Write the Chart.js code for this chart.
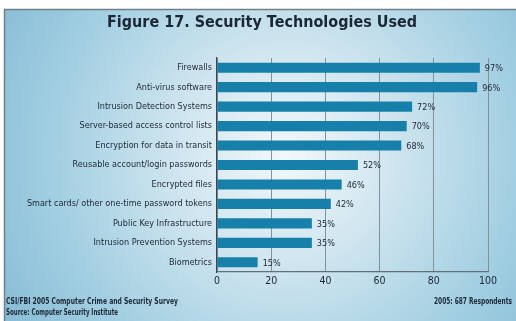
<!DOCTYPE html>
<html>
<head>
<meta charset="utf-8">
<script src="https://cdn.jsdelivr.net/npm/chart.js@4/dist/chart.umd.min.js"></script>
<style>
  html, body { margin: 0; padding: 0; background: #ffffff; }
  #wrap { width: 516px; height: 321px; position: relative; }
</style>
</head>
<body>
<div id="wrap"><canvas id="c" width="516" height="321"></canvas></div>
<script>
// Survey results: share of respondents using each security technology
const categories = [
  "Firewalls",
  "Anti-virus software",
  "Intrusion Detection Systems",
  "Server-based access control lists",
  "Encryption for data in transit",
  "Reusable account/login passwords",
  "Encrypted files",
  "Smart cards/ other one-time password tokens",
  "Public Key Infrastructure",
  "Intrusion Prevention Systems",
  "Biometrics"
];
const usagePercent = [97, 96, 72, 70, 68, 52, 46, 42, 35, 35, 15];
const xTicks = [0, 20, 40, 60, 80, 100];

const titleText = "Figure 17. Security Technologies Used";
const footLeft = ["CSI/FBI 2005 Computer Crime and Security Survey", "Source: Computer Security Institute"];
const footRight = "2005: 687 Respondents";

const NARROW = '"Liberation Sans Narrow", "DejaVu Sans Condensed", Arial, sans-serif';
const INK = '#1b2734';

// Panel background, frame, title and footnotes
const panelPlugin = {
  id: 'panel',
  beforeDraw(chart) {
    const ctx = chart.ctx;
    const W = chart.width, H = chart.height;
    ctx.save();
    ctx.fillStyle = '#ffffff';
    ctx.fillRect(0, 0, W, H);
    const g = ctx.createRadialGradient(285, 155, 0, 285, 155, 330);
    g.addColorStop(0, '#f2f8fb');
    g.addColorStop(0.3, '#d3e7f0');
    g.addColorStop(0.7, '#a3cfe2');
    g.addColorStop(1, '#86bcd5');
    ctx.fillStyle = g;
    ctx.fillRect(4, 9, W - 4, H - 9);
    // frame on top and left edges
    ctx.strokeStyle = '#6f8089';
    ctx.lineWidth = 1.5;
    ctx.beginPath();
    ctx.moveTo(4.5, H);
    ctx.lineTo(4.5, 9.5);
    ctx.lineTo(W, 9.5);
    ctx.stroke();
    ctx.restore();
  },
  afterDraw(chart) {
    const ctx = chart.ctx;
    ctx.save();
    ctx.fillStyle = INK;
    ctx.textBaseline = 'middle';
    ctx.textAlign = 'center';
    ctx.font = 'bold 16px "DejaVu Sans", Arial, sans-serif';
    ctx.fillText(titleText, 262, 23, 310);

    ctx.textAlign = 'left';
    ctx.font = 'bold 8px ' + NARROW;
    ctx.fillText(footLeft[0], 6, 302, 172);
    ctx.fillText(footLeft[1], 6, 313, 112);
    ctx.textAlign = 'right';
    ctx.fillText(footRight, 512, 302, 78);
    ctx.restore();
  }
};

// Percentage labels at the end of each bar
const valueLabels = {
  id: 'valueLabels',
  afterDatasetsDraw(chart) {
    const ctx = chart.ctx;
    const meta = chart.getDatasetMeta(0);
    ctx.save();
    ctx.fillStyle = INK;
    ctx.font = '9px ' + NARROW;
    ctx.textAlign = 'left';
    ctx.textBaseline = 'middle';
    meta.data.forEach((bar, i) => {
      ctx.fillText(usagePercent[i] + '%', bar.x + 5, bar.y + 1);
    });
    ctx.restore();
  }
};

new Chart(document.getElementById('c'), {
  type: 'bar',
  data: {
    labels: categories,
    datasets: [{
      data: usagePercent,
      backgroundColor: '#1680aa',
      borderWidth: 0,
      barPercentage: 0.52,
      categoryPercentage: 1.0
    }]
  },
  options: {
    indexAxis: 'y',
    responsive: false,
    animation: false,
    devicePixelRatio: 1,
    layout: { padding: { left: 7, right: 28, top: 58, bottom: 29 } },
    plugins: {
      legend: { display: false },
      title: { display: false },
      tooltip: { enabled: false }
    },
    scales: {
      x: {
        min: 0, max: 100,
        afterFit(s) { s.height = 20; },
        afterBuildTicks(s) { s.ticks = xTicks.map(v => ({ value: v })); },
        grid: { color: '#7f929e', lineWidth: 1, drawTicks: false },
        border: { color: '#5f707b', width: 1.2 },
        ticks: { color: INK, font: { family: NARROW, size: 10.5 }, padding: 3 }
      },
      y: {
        afterFit(s) { s.width = 210; },
        grid: { display: false, drawTicks: false },
        border: { color: '#3a4650', width: 1.2 },
        ticks: { color: INK, font: { family: NARROW, size: 9 }, padding: 5, autoSkip: false }
      }
    }
  },
  plugins: [panelPlugin, valueLabels]
});
</script>
</body>
</html>
